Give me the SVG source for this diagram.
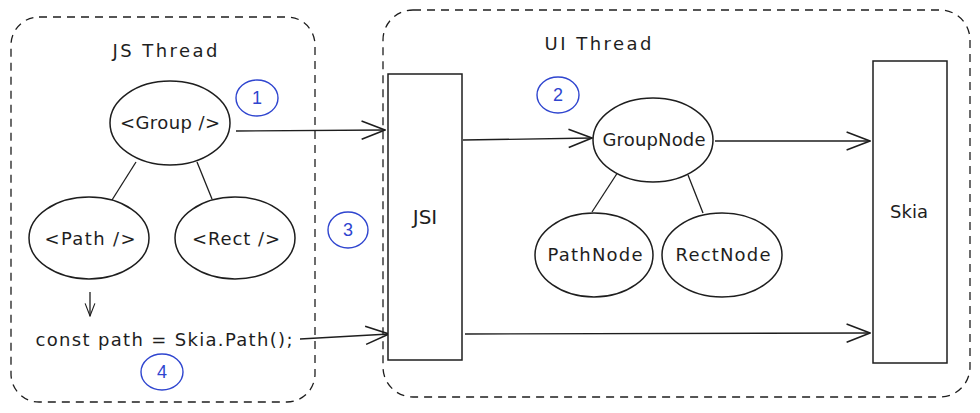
<svg xmlns="http://www.w3.org/2000/svg" width="980" height="413" viewBox="0 0 980 413">
<defs>
<style>
.frame{fill:none;stroke:#1e1e1e;stroke-width:1.3;stroke-dasharray:8 6}
.shape{fill:#fff;stroke:#1e1e1e;stroke-width:1.5}
.line{fill:none;stroke:#1e1e1e;stroke-width:1.3}
.t{font-family:"DejaVu Sans","Liberation Sans",sans-serif;font-size:18px;fill:#1e1e1e;text-anchor:middle}
.num{fill:none;stroke:#2f45cf;stroke-width:1.4}
.nt{font-family:"Liberation Sans",Arial,sans-serif;font-size:18px;fill:#2f45cf;text-anchor:middle}
</style>
<marker id="arr" viewBox="0 0 20 20" refX="19" refY="10" markerWidth="26" markerHeight="26" markerUnits="userSpaceOnUse" orient="auto">
<path d="M1 3 L19 10 L1 17" fill="none" stroke="#1e1e1e" stroke-width="1.2"/>
</marker>
<marker id="arrs" viewBox="0 0 20 20" refX="19" refY="10" markerWidth="14" markerHeight="14" markerUnits="userSpaceOnUse" orient="auto">
<path d="M1 3 L19 10 L1 17" fill="none" stroke="#1e1e1e" stroke-width="1.6"/>
</marker>
</defs>
<rect width="980" height="413" fill="#fff"/>

<g id="js-thread">
<rect class="frame" x="11" y="17" width="304" height="385" rx="28"/>
<text class="t" x="165" y="57" textLength="105">JS Thread</text>
</g>
<g id="ui-thread">
<rect class="frame" x="383" y="10" width="587" height="387" rx="30"/>
<text class="t" x="598" y="50" textLength="107">UI Thread</text>
</g>

<g id="connectors">
<path class="line" d="M136 162 L112 200"/>
<path class="line" d="M197 162 L212 199"/>
<path class="line" d="M618 172 L592 212"/>
<path class="line" d="M688 175 L703 213"/>
<path class="line" d="M236 131 L385 130" marker-end="url(#arr)"/>
<path class="line" d="M90 292 L90 316" marker-end="url(#arrs)"/>
<path class="line" d="M300 339 L389 334" marker-end="url(#arr)"/>
<path class="line" d="M463 140 L592 138" marker-end="url(#arr)"/>
<path class="line" d="M715 141 L870 141" marker-end="url(#arr)"/>
<path class="line" d="M465 334 L870 333" marker-end="url(#arr)"/>
</g>

<g id="group">
<ellipse class="shape" cx="170" cy="123" rx="60" ry="42"/>
<text class="t" x="170" y="129" textLength="100">&lt;Group /&gt;</text>
</g>
<g id="path">
<ellipse class="shape" cx="89" cy="238" rx="60" ry="41"/>
<text class="t" x="90" y="245" textLength="91">&lt;Path /&gt;</text>
</g>
<g id="rect">
<ellipse class="shape" cx="235" cy="238" rx="60" ry="41"/>
<text class="t" x="236" y="245" textLength="88">&lt;Rect /&gt;</text>
</g>
<g id="code">
<text class="t" x="164" y="346" textLength="257">const path = Skia.Path();</text>
</g>

<g id="jsi">
<rect class="shape" x="388" y="74" width="74" height="286"/>
<text class="t" x="425" y="224" style="font-size:20px">JSI</text>
</g>
<g id="groupnode">
<ellipse class="shape" cx="653" cy="140" rx="60" ry="42"/>
<text class="t" x="654" y="146" textLength="103">GroupNode</text>
</g>
<g id="pathnode">
<ellipse class="shape" cx="594" cy="255" rx="59" ry="42"/>
<text class="t" x="595" y="261" textLength="95">PathNode</text>
</g>
<g id="rectnode">
<ellipse class="shape" cx="722" cy="255" rx="60" ry="42"/>
<text class="t" x="723" y="261" textLength="95">RectNode</text>
</g>
<g id="skia">
<rect class="shape" x="873" y="61" width="74" height="302"/>
<text class="t" x="909" y="218">Skia</text>
</g>

<g id="n1">
<ellipse class="num" cx="257" cy="98" rx="21" ry="18"/>
<text class="nt" x="257" y="104">1</text>
</g>
<g id="n2">
<ellipse class="num" cx="558" cy="95" rx="21" ry="18"/>
<text class="nt" x="558" y="101">2</text>
</g>
<g id="n3">
<ellipse class="num" cx="348" cy="230" rx="20" ry="18"/>
<text class="nt" x="348" y="236">3</text>
</g>
<g id="n4">
<ellipse class="num" cx="162" cy="372" rx="21" ry="18"/>
<text class="nt" x="162" y="378">4</text>
</g>
</svg>
